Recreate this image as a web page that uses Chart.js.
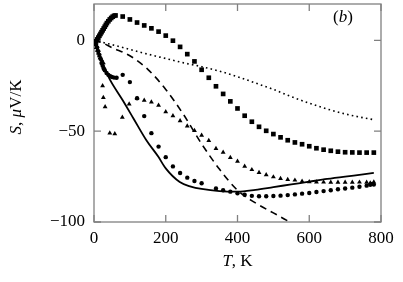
<!DOCTYPE html>
<html>
<head>
<meta charset="utf-8">
<script src="https://cdn.jsdelivr.net/npm/chart.js@4.4.1/dist/chart.umd.min.js"></script>
<style>
  html, body { margin: 0; padding: 0; background: #fff; }
  #wrap { width: 403px; height: 282px; }
</style>
</head>
<body>
<div id="wrap"><canvas id="chart"></canvas></div>
<script>
// datos (T en K, S en uV/K)
var sqT = [3, 6, 9, 12, 15, 18, 21, 24, 27, 30, 33, 36, 40, 44, 48, 52, 56, 60, 80, 100, 120, 140, 160, 180, 200, 220, 240, 260, 280, 300, 320, 340, 360, 380, 400, 420, 440, 460, 480, 500, 520, 540, 560, 580, 600, 620, 640, 660, 680, 700, 720, 740, 760, 780];
var sqS = [-1.5, -0.5, 0.5, 1.5, 2.5, 3.5, 4.5, 5.5, 6.5, 7.5, 8.5, 9.5, 10.5, 11.5, 12.3, 13, 13.5, 13.7, 13.1, 11.5, 9.8, 8.2, 6.6, 4.8, 2.6, -0.2, -3.6, -7.6, -11.6, -16.2, -20.6, -25.3, -29.5, -33.6, -37.5, -41.5, -44.8, -47.6, -49.8, -51.6, -53.4, -55, -56.2, -57.2, -58.3, -59.4, -60.2, -60.8, -61.3, -61.6, -61.7, -61.8, -61.8, -61.8];

var cirT = [3, 6, 9, 12, 15, 18, 21, 24, 27, 30, 35, 40, 45, 50, 56, 63, 80, 100, 120, 140, 160, 180, 200, 220, 240, 260, 280, 300, 340, 360, 380, 400, 420, 440, 460, 480, 500, 520, 540, 560, 580, 600, 620, 640, 660, 680, 700, 720, 740, 760, 770, 775, 780];
var cirS = [-1, -2.5, -4, -6, -8, -10, -12.5, -14, -15.5, -16.5, -18, -19, -19.7, -20.2, -20.5, -20.6, -19, -23, -31.9, -41.7, -51.1, -58.5, -64.3, -69.4, -73, -75.6, -77.4, -78.7, -81.6, -82.5, -83.3, -84.2, -85, -85.6, -85.8, -85.8, -85.7, -85.5, -85.2, -84.8, -84.4, -84, -83.5, -83, -82.5, -82, -81.6, -81.1, -80.6, -80, -79.5, -79, -79.4];

var triT = [3, 6, 9, 12, 15, 17, 21, 26, 24, 26, 31, 44, 58, 79, 98, 120, 140, 160, 180, 200, 220, 240, 260, 280, 300, 320, 340, 360, 380, 400, 420, 440, 460, 480, 500, 520, 540, 560, 580, 600, 620, 640, 660, 680, 700, 720, 740, 760, 770, 775, 780];
var triS = [-2, -4, -5.5, -7, -8.5, -9.7, -10.6, -12.4, -25, -31.5, -36.6, -51, -51.5, -42.4, -35.1, -32, -33, -34, -35.8, -39.3, -41.5, -44.3, -47.2, -49.7, -52.3, -55.2, -59.6, -61.6, -64.5, -66.6, -69.4, -71.2, -72.8, -74, -75.2, -76.1, -76.7, -77, -77.6, -77.9, -78, -78.1, -78.2, -78.2, -78.2, -78.2, -78.1, -78.2, -78.6, -79.4, -78];

var solidT = [0, 17, 31, 44, 80, 110, 146, 179, 200, 239, 270, 300, 350, 400, 450, 500, 550, 600, 650, 700, 750, 780];
var solidS = [0, -8.7, -16, -21.5, -33, -43, -55, -64, -70.5, -78, -80.5, -81.8, -83, -83.3, -82.3, -80.8, -79.3, -77.8, -76.3, -75, -73.8, -73];

var dashT = [0, 25, 50, 100, 150, 200, 250, 300, 350, 400, 450, 500, 550];
var dashS = [0, -1.5, -4, -8.5, -16, -27, -41, -57, -71, -82.5, -89.5, -95, -100.5];

var dotT = [0, 50, 100, 150, 200, 250, 300, 350, 400, 450, 500, 550, 600, 650, 700, 750, 780];
var dotS = [0, -2.4, -5, -7.6, -10, -12.4, -14.5, -17, -20, -23.5, -27, -31, -34.6, -37.8, -40.5, -42.6, -43.7];

var xTicks = [0, 200, 400, 600, 800];
var yTicks = [-100, -50, 0];

var FONT = '"Liberation Serif", "DejaVu Serif", serif';
var GRIS = '#808080';

function pts(xs, ys) {
    return xs.map(function(x, i) { return { x: x, y: ys[i] }; });
}

// marco, marcas hacia dentro y titulos con cursiva
var marco = {
    id: 'marco',
    beforeDatasetsDraw: function(chart) {
        var ctx = chart.ctx, a = chart.chartArea;
        var xs = chart.scales.x, ys = chart.scales.y;
        ctx.save();
        ctx.strokeStyle = GRIS;
        ctx.lineWidth = 1.3;
        ctx.strokeRect(a.left, a.top, a.right - a.left, a.bottom - a.top);
        ctx.beginPath();
        xTicks.forEach(function(v) {
            var px = xs.getPixelForValue(v);
            ctx.moveTo(px, a.bottom); ctx.lineTo(px, a.bottom - 7);
            ctx.moveTo(px, a.top); ctx.lineTo(px, a.top + 7);
        });
        yTicks.forEach(function(v) {
            var py = ys.getPixelForValue(v);
            ctx.moveTo(a.left, py); ctx.lineTo(a.left + 7, py);
            ctx.moveTo(a.right, py); ctx.lineTo(a.right - 7, py);
        });
        ctx.stroke();
        ctx.restore();
    },
    afterDraw: function(chart) {
        var ctx = chart.ctx, a = chart.chartArea;
        ctx.save();
        ctx.fillStyle = '#000';
        ctx.textBaseline = 'middle';

        // piezas [texto, cursiva]
        function trozos(parts, cx, cy) {
            var w = 0;
            parts.forEach(function(p) {
                ctx.font = (p[1] ? 'italic ' : '') + '17px ' + FONT;
                w += ctx.measureText(p[0]).width;
            });
            var x = cx - w / 2;
            ctx.textAlign = 'left';
            parts.forEach(function(p) {
                ctx.font = (p[1] ? 'italic ' : '') + '17px ' + FONT;
                ctx.fillText(p[0], x, cy);
                x += ctx.measureText(p[0]).width;
            });
        }

        trozos([['T', true], [', K', false]], (a.left + a.right) / 2, 262);

        ctx.save();
        ctx.translate(17, 107);
        ctx.rotate(-Math.PI / 2);
        trozos([['S', true], [', ', false], ['\u03bc', true], ['V/K', false]], 0, 0);
        ctx.restore();

        trozos([['(', false], ['b', true], [')', false]], 343, 18);
        ctx.restore();
    }
};

var ctx = document.getElementById('chart').getContext('2d');
var myChart = new Chart(ctx, {
    type: 'scatter',
    data: {
        datasets: [
            {
                label: 'dotted',
                data: pts(dotT, dotS),
                showLine: true,
                borderColor: '#000',
                borderWidth: 1.6,
                borderDash: [1.6, 3.2],
                pointRadius: 0,
                cubicInterpolationMode: 'monotone'
            },
            {
                label: 'dashed',
                data: pts(dashT, dashS),
                showLine: true,
                borderColor: '#000',
                borderWidth: 1.6,
                borderDash: [7, 5],
                pointRadius: 0,
                cubicInterpolationMode: 'monotone'
            },
            {
                label: 'solid',
                data: pts(solidT, solidS),
                showLine: true,
                borderColor: '#000',
                borderWidth: 1.8,
                pointRadius: 0,
                cubicInterpolationMode: 'monotone'
            },
            {
                label: 'squares',
                data: pts(sqT, sqS),
                pointStyle: 'rect',
                pointRadius: 3.3,
                backgroundColor: '#000',
                borderWidth: 0
            },
            {
                label: 'circles',
                data: pts(cirT, cirS),
                pointStyle: 'circle',
                pointRadius: 2.2,
                backgroundColor: '#000',
                borderWidth: 0
            },
            {
                label: 'triangles',
                data: pts(triT, triS),
                pointStyle: 'triangle',
                pointRadius: 2.8,
                backgroundColor: '#000',
                borderWidth: 0
            }
        ]
    },
    options: {
        responsive: true,
        maintainAspectRatio: false,
        animation: false,
        events: [],
        layout: { padding: { top: 2, right: 22, left: 0, bottom: 0 } },
        plugins: {
            legend: { display: false },
            tooltip: { enabled: false }
        },
        scales: {
            x: {
                type: 'linear',
                min: 0,
                max: 800,
                afterFit: function(s) {
                    s.height = 60;
                    s.paddingLeft = 0; s.paddingRight = 0;
                },
                afterBuildTicks: function(s) { s.ticks = xTicks.map(function(v) { return { value: v }; }); },
                grid: { display: false, drawTicks: false },
                border: { display: false },
                ticks: {
                    padding: 6,
                    color: '#000',
                    maxRotation: 0,
                    font: { family: FONT, size: 17 }
                }
            },
            y: {
                type: 'linear',
                min: -100,
                max: 20,
                afterFit: function(s) {
                    s.width = 94;
                    s.paddingTop = 0; s.paddingBottom = 0;
                },
                afterBuildTicks: function(s) { s.ticks = yTicks.map(function(v) { return { value: v }; }); },
                grid: { display: false, drawTicks: false },
                border: { display: false },
                ticks: {
                    padding: 9,
                    color: '#000',
                    font: { family: FONT, size: 17 },
                    callback: function(v) { return v < 0 ? '\u2212' + Math.abs(v) : String(v); }
                }
            }
        }
    },
    plugins: [marco]
});
</script>
</body>
</html>
